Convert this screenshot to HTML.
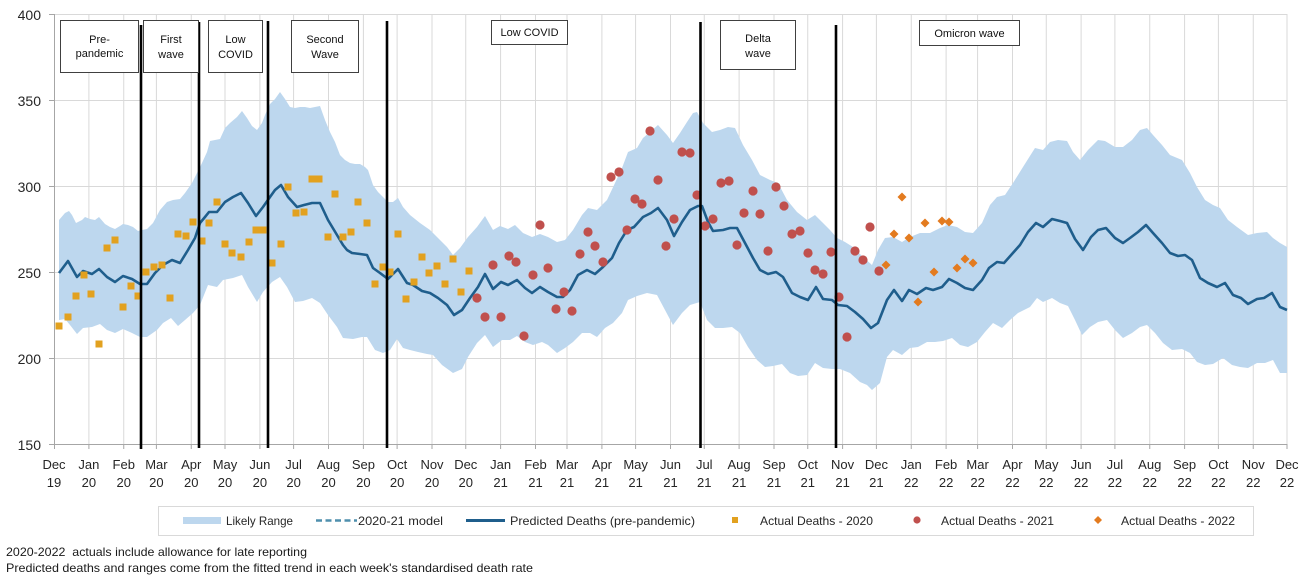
<!DOCTYPE html>
<html>
<head>
<meta charset="utf-8">
<style>
  html, body { margin: 0; padding: 0; background: #ffffff; }
  svg { display: block; }
  text { font-family: "Liberation Sans", sans-serif; }
</style>
</head>
<body>
<svg width="1306" height="583" viewBox="0 0 1306 583" xmlns="http://www.w3.org/2000/svg">
  <rect x="0" y="0" width="1306" height="583" fill="#ffffff"/>

  <!-- horizontal gridlines -->
  <g stroke="#d9d9d9" stroke-width="1">
    <line x1="54" y1="14.5" x2="1287" y2="14.5"/>
    <line x1="54" y1="100.5" x2="1287" y2="100.5"/>
    <line x1="54" y1="186.5" x2="1287" y2="186.5"/>
    <line x1="54" y1="272.5" x2="1287" y2="272.5"/>
    <line x1="54" y1="358.5" x2="1287" y2="358.5"/>
  </g>
  <!-- vertical gridlines (months) -->
  <g stroke="#d9d9d9" stroke-width="1">
    <line x1="88.9" y1="14" x2="88.9" y2="444"/>
    <line x1="123.75" y1="14" x2="123.75" y2="444"/>
    <line x1="156.4" y1="14" x2="156.4" y2="444"/>
    <line x1="191.25" y1="14" x2="191.25" y2="444"/>
    <line x1="225" y1="14" x2="225" y2="444"/>
    <line x1="259.9" y1="14" x2="259.9" y2="444"/>
    <line x1="293.6" y1="14" x2="293.6" y2="444"/>
    <line x1="328.5" y1="14" x2="328.5" y2="444"/>
    <line x1="363.4" y1="14" x2="363.4" y2="444"/>
    <line x1="397.1" y1="14" x2="397.1" y2="444"/>
    <line x1="432" y1="14" x2="432" y2="444"/>
    <line x1="465.75" y1="14" x2="465.75" y2="444"/>
    <line x1="500.6" y1="14" x2="500.6" y2="444"/>
    <line x1="535.5" y1="14" x2="535.5" y2="444"/>
    <line x1="567" y1="14" x2="567" y2="444"/>
    <line x1="601.9" y1="14" x2="601.9" y2="444"/>
    <line x1="635.6" y1="14" x2="635.6" y2="444"/>
    <line x1="670.5" y1="14" x2="670.5" y2="444"/>
    <line x1="704.25" y1="14" x2="704.25" y2="444"/>
    <line x1="739.1" y1="14" x2="739.1" y2="444"/>
    <line x1="774" y1="14" x2="774" y2="444"/>
    <line x1="807.75" y1="14" x2="807.75" y2="444"/>
    <line x1="842.6" y1="14" x2="842.6" y2="444"/>
    <line x1="876.4" y1="14" x2="876.4" y2="444"/>
    <line x1="911.25" y1="14" x2="911.25" y2="444"/>
    <line x1="946.1" y1="14" x2="946.1" y2="444"/>
    <line x1="977.6" y1="14" x2="977.6" y2="444"/>
    <line x1="1012.5" y1="14" x2="1012.5" y2="444"/>
    <line x1="1046.25" y1="14" x2="1046.25" y2="444"/>
    <line x1="1081.1" y1="14" x2="1081.1" y2="444"/>
    <line x1="1114.9" y1="14" x2="1114.9" y2="444"/>
    <line x1="1149.75" y1="14" x2="1149.75" y2="444"/>
    <line x1="1184.6" y1="14" x2="1184.6" y2="444"/>
    <line x1="1218.4" y1="14" x2="1218.4" y2="444"/>
    <line x1="1253.25" y1="14" x2="1253.25" y2="444"/>
    <line x1="1287" y1="14" x2="1287" y2="444"/>
  </g>

  <!-- Likely range band -->
  <path fill="#bdd7ee" d="M59,220 L65,213 69,211 72,215 76,223 82,220 85,217 90,219 95,220 99,217 105,224 110,227 115,229 120,226 123,224 128,225 133,227 138,231 142,230 147,229 153,223 160,210 167,202 173,200 180,199 185,193 192,183 197,173 202,163 207,152 210,141 215,140 220,139 225,128 230,123 237,117 242,111 247,118 252,126 257,130 262,123 265,115 270,104 275,99 280,92 285,99 290,107 295,108 300,107 305,107 310,108 315,107 320,106 325,120 330,132 335,142 340,155 345,160 350,163 355,164 360,164 365,167 368,170 373,185 378,192 383,197 388,202 393,202 398,198 403,207 410,215 420,223 430,230 438,238 447,247 453,255 460,248 468,237 477,227 485,216 493,230 500,226 508,229 515,225 523,233 532,237 540,234 548,237 557,242 565,240 573,230 582,215 588,208 597,210 607,200 615,183 622,168 628,152 637,148 643,138 650,132 658,125 667,135 673,143 680,133 687,122 693,113 697,112 703,123 712,132 720,130 728,127 735,128 743,145 752,160 760,175 770,180 778,183 787,200 797,212 807,220 815,215 822,222 830,230 837,238 845,242 853,247 863,257 872,265 878,250 885,238 893,237 902,242 910,237 920,233 930,233 940,228 948,225 957,227 965,232 973,233 982,223 990,205 997,197 1005,195 1013,183 1023,167 1035,148 1043,150 1050,142 1058,140 1067,141 1073,152 1080,160 1088,150 1098,140 1105,141 1115,147 1123,147 1132,140 1140,130 1147,128 1153,135 1162,145 1170,155 1182,160 1190,173 1197,187 1205,200 1213,205 1220,208 1228,220 1237,227 1248,235 1257,233 1267,232 1273,238 1280,243 1287,247 L1287,373 1280,373 1273,360 1265,363 1257,363 1248,368 1240,367 1232,365 1223,358 1213,364 1205,365 1197,362 1190,353 1182,349 1172,350 1163,343 1155,333 1147,325 1140,327 1132,333 1123,338 1115,330 1107,320 1098,322 1090,327 1082,335 1075,320 1068,306 1060,303 1052,298 1043,302 1037,298 1030,307 1018,313 1010,320 1002,328 993,323 985,332 977,342 968,347 960,345 952,338 943,341 935,342 927,342 918,347 910,348 902,355 893,350 887,357 880,383 872,390 867,385 860,382 850,373 840,369 832,369 823,368 815,363 807,375 798,376 790,373 782,364 773,366 765,367 757,360 748,347 740,333 732,327 723,328 715,328 707,320 700,302 690,305 682,313 673,325 665,310 657,295 647,293 637,296 628,300 622,313 613,323 605,328 597,337 590,333 582,333 573,342 565,348 557,353 548,345 542,342 533,345 525,342 517,336 510,340 502,340 493,347 485,335 477,343 468,357 462,369 453,373 442,365 433,355 427,354 418,352 410,350 403,348 397,339 390,350 383,353 375,350 367,337 362,337 353,339 343,338 337,327 328,315 320,303 312,298 303,301 295,302 287,287 280,277 272,282 263,292 257,302 248,287 242,275 233,278 223,280 217,287 208,285 200,305 193,313 185,320 178,326 171,318 163,323 157,330 147,337 140,337 132,333 123,329 115,333 107,330 100,324 92,327 83,328 77,334 70,325 65,319 59,320 Z"/>

  <!-- Predicted deaths line -->
  <polyline fill="none" stroke="#1f5e8c" stroke-width="2.6" stroke-linejoin="round" points="59,273 68,261 77,277 83,271 92,274 99,269 107,277 115,282 123,276 132,279 140,284 147,284 155,273 163,265 172,260 180,263 188,250 195,238 200,223 205,217 209,212 217,212 225,202 233,197 241,193 248,203 256,216 263,207 270,197 275,190 281,185 288,197 297,207 304,205 312,203 320,203 328,220 337,235 343,245 347,250 352,253 360,254 367,255 373,268 380,273 388,279 398,269 407,283 413,285 422,291 430,293 438,298 447,305 454,315 462,310 470,298 478,287 485,274 493,289 501,282 508,285 517,280 525,288 532,293 540,287 548,292 557,297 563,297 570,290 578,275 587,270 595,274 603,267 612,258 619,243 627,230 634,227 643,217 651,213 658,208 667,220 674,236 682,222 690,210 698,206 702,206 708,222 713,231 723,230 730,228 737,228 745,243 753,258 760,270 768,274 776,272 783,277 792,293 800,297 808,300 816,287 823,299 832,300 838,305 847,306 855,312 863,319 871,328 878,323 887,300 894,290 902,301 909,290 917,294 926,288 933,290 942,287 949,279 957,283 965,288 973,290 982,280 989,268 997,262 1004,263 1012,254 1020,245 1028,232 1036,223 1043,227 1052,219 1060,221 1067,223 1075,239 1083,250 1091,237 1098,230 1106,228 1115,238 1123,243 1130,238 1138,232 1146,225 1153,233 1162,243 1170,253 1178,256 1185,255 1192,260 1200,278 1208,283 1217,287 1225,283 1233,295 1241,298 1248,304 1257,299 1264,298 1272,293 1280,307 1287,310"/>

  <!-- Actual deaths 2020 (squares) -->
  <g fill="#e2a11f">
    <rect x="55.5" y="322.5" width="7" height="7"/><rect x="64.5" y="313.5" width="7" height="7"/><rect x="72.5" y="292.5" width="7" height="7"/><rect x="80.5" y="271.5" width="7" height="7"/><rect x="87.5" y="290.5" width="7" height="7"/><rect x="95.5" y="340.5" width="7" height="7"/><rect x="103.5" y="244.5" width="7" height="7"/><rect x="111.5" y="236.5" width="7" height="7"/><rect x="119.5" y="303.5" width="7" height="7"/><rect x="127.5" y="282.5" width="7" height="7"/><rect x="134.5" y="292.5" width="7" height="7"/><rect x="142.5" y="268.5" width="7" height="7"/><rect x="150.5" y="263.5" width="7" height="7"/><rect x="158.5" y="261.5" width="7" height="7"/><rect x="166.5" y="294.5" width="7" height="7"/><rect x="174.5" y="230.5" width="7" height="7"/><rect x="182.5" y="232.5" width="7" height="7"/><rect x="189.5" y="218.5" width="7" height="7"/><rect x="198.5" y="237.5" width="7" height="7"/><rect x="205.5" y="219.5" width="7" height="7"/><rect x="213.5" y="198.5" width="7" height="7"/><rect x="221.5" y="240.5" width="7" height="7"/><rect x="228.5" y="249.5" width="7" height="7"/><rect x="237.5" y="253.5" width="7" height="7"/><rect x="245.5" y="238.5" width="7" height="7"/><rect x="252.5" y="226.5" width="7" height="7"/><rect x="259.5" y="226.5" width="7" height="7"/><rect x="268.5" y="259.5" width="7" height="7"/><rect x="277.5" y="240.5" width="7" height="7"/><rect x="284.5" y="183.5" width="7" height="7"/><rect x="292.5" y="209.5" width="7" height="7"/><rect x="300.5" y="208.5" width="7" height="7"/><rect x="308.5" y="175.5" width="7" height="7"/><rect x="315.5" y="175.5" width="7" height="7"/><rect x="324.5" y="233.5" width="7" height="7"/><rect x="331.5" y="190.5" width="7" height="7"/><rect x="339.5" y="233.5" width="7" height="7"/><rect x="347.5" y="228.5" width="7" height="7"/><rect x="354.5" y="198.5" width="7" height="7"/><rect x="363.5" y="219.5" width="7" height="7"/><rect x="371.5" y="280.5" width="7" height="7"/><rect x="379.5" y="263.5" width="7" height="7"/><rect x="386.5" y="268.5" width="7" height="7"/><rect x="394.5" y="230.5" width="7" height="7"/><rect x="402.5" y="295.5" width="7" height="7"/><rect x="410.5" y="278.5" width="7" height="7"/><rect x="418.5" y="253.5" width="7" height="7"/><rect x="425.5" y="269.5" width="7" height="7"/><rect x="433.5" y="262.5" width="7" height="7"/><rect x="441.5" y="280.5" width="7" height="7"/><rect x="449.5" y="255.5" width="7" height="7"/><rect x="457.5" y="288.5" width="7" height="7"/><rect x="465.5" y="267.5" width="7" height="7"/>
  </g>

  <!-- Actual deaths 2021 (circles) -->
  <g fill="#c0504d">
    <circle cx="477" cy="298" r="4.6"/><circle cx="485" cy="317" r="4.6"/><circle cx="493" cy="265" r="4.6"/><circle cx="501" cy="317" r="4.6"/><circle cx="509" cy="256" r="4.6"/><circle cx="516" cy="262" r="4.6"/><circle cx="524" cy="336" r="4.6"/><circle cx="533" cy="275" r="4.6"/><circle cx="540" cy="225" r="4.6"/><circle cx="548" cy="268" r="4.6"/><circle cx="556" cy="309" r="4.6"/><circle cx="564" cy="292" r="4.6"/><circle cx="572" cy="311" r="4.6"/><circle cx="580" cy="254" r="4.6"/><circle cx="588" cy="232" r="4.6"/><circle cx="595" cy="246" r="4.6"/><circle cx="603" cy="262" r="4.6"/><circle cx="611" cy="177" r="4.6"/><circle cx="619" cy="172" r="4.6"/><circle cx="627" cy="230" r="4.6"/><circle cx="635" cy="199" r="4.6"/><circle cx="642" cy="204" r="4.6"/><circle cx="650" cy="131" r="4.6"/><circle cx="658" cy="180" r="4.6"/><circle cx="666" cy="246" r="4.6"/><circle cx="674" cy="219" r="4.6"/><circle cx="682" cy="152" r="4.6"/><circle cx="690" cy="153" r="4.6"/><circle cx="697" cy="195" r="4.6"/><circle cx="705" cy="226" r="4.6"/><circle cx="713" cy="219" r="4.6"/><circle cx="721" cy="183" r="4.6"/><circle cx="729" cy="181" r="4.6"/><circle cx="737" cy="245" r="4.6"/><circle cx="744" cy="213" r="4.6"/><circle cx="753" cy="191" r="4.6"/><circle cx="760" cy="214" r="4.6"/><circle cx="768" cy="251" r="4.6"/><circle cx="776" cy="187" r="4.6"/><circle cx="784" cy="206" r="4.6"/><circle cx="792" cy="234" r="4.6"/><circle cx="800" cy="231" r="4.6"/><circle cx="808" cy="253" r="4.6"/><circle cx="815" cy="270" r="4.6"/><circle cx="823" cy="274" r="4.6"/><circle cx="831" cy="252" r="4.6"/><circle cx="839" cy="297" r="4.6"/><circle cx="847" cy="337" r="4.6"/><circle cx="855" cy="251" r="4.6"/><circle cx="863" cy="260" r="4.6"/><circle cx="870" cy="227" r="4.6"/><circle cx="879" cy="271" r="4.6"/>
  </g>

  <!-- Actual deaths 2022 (diamonds) -->
  <g fill="#e37b1f">
    <polygon points="886,260.5 890.5,265 886,269.5 881.5,265"/>
    <polygon points="894,229.5 898.5,234 894,238.5 889.5,234"/>
    <polygon points="902,192.5 906.5,197 902,201.5 897.5,197"/>
    <polygon points="909,233.5 913.5,238 909,242.5 904.5,238"/>
    <polygon points="918,297.5 922.5,302 918,306.5 913.5,302"/>
    <polygon points="925,218.5 929.5,223 925,227.5 920.5,223"/>
    <polygon points="934,267.5 938.5,272 934,276.5 929.5,272"/>
    <polygon points="942,216.5 946.5,221 942,225.5 937.5,221"/>
    <polygon points="949,217.5 953.5,222 949,226.5 944.5,222"/>
    <polygon points="957,263.5 961.5,268 957,272.5 952.5,268"/>
    <polygon points="965,254.5 969.5,259 965,263.5 960.5,259"/>
    <polygon points="973,258.5 977.5,263 973,267.5 968.5,263"/>
  </g>

  <!-- axes -->
  <g stroke="#a6a6a6" stroke-width="1">
    <line x1="54.5" y1="14" x2="54.5" y2="444"/>
    <line x1="54" y1="444.5" x2="1287" y2="444.5"/>
    <line x1="49" y1="14.5" x2="54" y2="14.5"/>
    <line x1="49" y1="100.5" x2="54" y2="100.5"/>
    <line x1="49" y1="186.5" x2="54" y2="186.5"/>
    <line x1="49" y1="272.5" x2="54" y2="272.5"/>
    <line x1="49" y1="358.5" x2="54" y2="358.5"/>
    <line x1="49" y1="444.5" x2="54" y2="444.5"/>
  </g>
  <g stroke="#a6a6a6" stroke-width="1">
    <line x1="54.5" y1="444" x2="54.5" y2="449"/><line x1="88.9" y1="444" x2="88.9" y2="449"/><line x1="123.75" y1="444" x2="123.75" y2="449"/><line x1="156.4" y1="444" x2="156.4" y2="449"/><line x1="191.25" y1="444" x2="191.25" y2="449"/><line x1="225" y1="444" x2="225" y2="449"/><line x1="259.9" y1="444" x2="259.9" y2="449"/><line x1="293.6" y1="444" x2="293.6" y2="449"/><line x1="328.5" y1="444" x2="328.5" y2="449"/><line x1="363.4" y1="444" x2="363.4" y2="449"/><line x1="397.1" y1="444" x2="397.1" y2="449"/><line x1="432" y1="444" x2="432" y2="449"/><line x1="465.75" y1="444" x2="465.75" y2="449"/><line x1="500.6" y1="444" x2="500.6" y2="449"/><line x1="535.5" y1="444" x2="535.5" y2="449"/><line x1="567" y1="444" x2="567" y2="449"/><line x1="601.9" y1="444" x2="601.9" y2="449"/><line x1="635.6" y1="444" x2="635.6" y2="449"/><line x1="670.5" y1="444" x2="670.5" y2="449"/><line x1="704.25" y1="444" x2="704.25" y2="449"/><line x1="739.1" y1="444" x2="739.1" y2="449"/><line x1="774" y1="444" x2="774" y2="449"/><line x1="807.75" y1="444" x2="807.75" y2="449"/><line x1="842.6" y1="444" x2="842.6" y2="449"/><line x1="876.4" y1="444" x2="876.4" y2="449"/><line x1="911.25" y1="444" x2="911.25" y2="449"/><line x1="946.1" y1="444" x2="946.1" y2="449"/><line x1="977.6" y1="444" x2="977.6" y2="449"/><line x1="1012.5" y1="444" x2="1012.5" y2="449"/><line x1="1046.25" y1="444" x2="1046.25" y2="449"/><line x1="1081.1" y1="444" x2="1081.1" y2="449"/><line x1="1114.9" y1="444" x2="1114.9" y2="449"/><line x1="1149.75" y1="444" x2="1149.75" y2="449"/><line x1="1184.6" y1="444" x2="1184.6" y2="449"/><line x1="1218.4" y1="444" x2="1218.4" y2="449"/><line x1="1253.25" y1="444" x2="1253.25" y2="449"/><line x1="1287" y1="444" x2="1287" y2="449"/>
  </g>

  <!-- phase divider lines -->
  <g stroke="#000000" stroke-width="2.6">
    <line x1="141" y1="25" x2="141" y2="449"/>
    <line x1="199" y1="22" x2="199" y2="448"/>
    <line x1="268" y1="21" x2="268" y2="448"/>
    <line x1="387" y1="21" x2="387" y2="448"/>
    <line x1="700.5" y1="22" x2="700.5" y2="448"/>
    <line x1="836" y1="25" x2="836" y2="448"/>
  </g>

  <!-- phase label boxes -->
  <g fill="#ffffff" stroke="#404040" stroke-width="1">
    <rect x="60.5" y="20.5" width="78" height="52"/>
    <rect x="143.5" y="20.5" width="55" height="52"/>
    <rect x="208.5" y="20.5" width="54" height="52"/>
    <rect x="291.5" y="20.5" width="67" height="52"/>
    <rect x="491.5" y="20.5" width="76" height="24"/>
    <rect x="720.5" y="20.5" width="75" height="49"/>
    <rect x="919.5" y="20.5" width="100" height="25"/>
  </g>
  <g font-size="11" fill="#111111" text-anchor="middle">
    <text x="99.5" y="43">Pre-</text>
    <text x="99.5" y="57">pandemic</text>
    <text x="171" y="43">First</text>
    <text x="171" y="58">wave</text>
    <text x="235.5" y="43">Low</text>
    <text x="235.5" y="58">COVID</text>
    <text x="325" y="43">Second</text>
    <text x="325" y="58">Wave</text>
    <text x="529.5" y="36">Low COVID</text>
    <text x="758" y="42">Delta</text>
    <text x="758" y="57">wave</text>
    <text x="969.5" y="37">Omicron wave</text>
  </g>

  <!-- y axis labels -->
  <g font-size="14" fill="#262626" text-anchor="end">
    <text x="41" y="20">400</text>
    <text x="41" y="106">350</text>
    <text x="41" y="192">300</text>
    <text x="41" y="278">250</text>
    <text x="41" y="364">200</text>
    <text x="41" y="450">150</text>
  </g>

  <!-- x axis labels -->
  <g font-size="13" fill="#262626" text-anchor="middle">
    <text x="54" y="469">Dec</text><text x="54" y="487">19</text>
    <text x="88.9" y="469">Jan</text><text x="88.9" y="487">20</text>
    <text x="123.75" y="469">Feb</text><text x="123.75" y="487">20</text>
    <text x="156.4" y="469">Mar</text><text x="156.4" y="487">20</text>
    <text x="191.25" y="469">Apr</text><text x="191.25" y="487">20</text>
    <text x="225" y="469">May</text><text x="225" y="487">20</text>
    <text x="259.9" y="469">Jun</text><text x="259.9" y="487">20</text>
    <text x="293.6" y="469">Jul</text><text x="293.6" y="487">20</text>
    <text x="328.5" y="469">Aug</text><text x="328.5" y="487">20</text>
    <text x="363.4" y="469">Sep</text><text x="363.4" y="487">20</text>
    <text x="397.1" y="469">Oct</text><text x="397.1" y="487">20</text>
    <text x="432" y="469">Nov</text><text x="432" y="487">20</text>
    <text x="465.75" y="469">Dec</text><text x="465.75" y="487">20</text>
    <text x="500.6" y="469">Jan</text><text x="500.6" y="487">21</text>
    <text x="535.5" y="469">Feb</text><text x="535.5" y="487">21</text>
    <text x="567" y="469">Mar</text><text x="567" y="487">21</text>
    <text x="601.9" y="469">Apr</text><text x="601.9" y="487">21</text>
    <text x="635.6" y="469">May</text><text x="635.6" y="487">21</text>
    <text x="670.5" y="469">Jun</text><text x="670.5" y="487">21</text>
    <text x="704.25" y="469">Jul</text><text x="704.25" y="487">21</text>
    <text x="739.1" y="469">Aug</text><text x="739.1" y="487">21</text>
    <text x="774" y="469">Sep</text><text x="774" y="487">21</text>
    <text x="807.75" y="469">Oct</text><text x="807.75" y="487">21</text>
    <text x="842.6" y="469">Nov</text><text x="842.6" y="487">21</text>
    <text x="876.4" y="469">Dec</text><text x="876.4" y="487">21</text>
    <text x="911.25" y="469">Jan</text><text x="911.25" y="487">22</text>
    <text x="946.1" y="469">Feb</text><text x="946.1" y="487">22</text>
    <text x="977.6" y="469">Mar</text><text x="977.6" y="487">22</text>
    <text x="1012.5" y="469">Apr</text><text x="1012.5" y="487">22</text>
    <text x="1046.25" y="469">May</text><text x="1046.25" y="487">22</text>
    <text x="1081.1" y="469">Jun</text><text x="1081.1" y="487">22</text>
    <text x="1114.9" y="469">Jul</text><text x="1114.9" y="487">22</text>
    <text x="1149.75" y="469">Aug</text><text x="1149.75" y="487">22</text>
    <text x="1184.6" y="469">Sep</text><text x="1184.6" y="487">22</text>
    <text x="1218.4" y="469">Oct</text><text x="1218.4" y="487">22</text>
    <text x="1253.25" y="469">Nov</text><text x="1253.25" y="487">22</text>
    <text x="1287" y="469">Dec</text><text x="1287" y="487">22</text>
  </g>

  <!-- legend -->
  <rect x="158.5" y="506.5" width="1095" height="29" fill="#ffffff" stroke="#d9d9d9" stroke-width="1"/>
  <rect x="183" y="517" width="38" height="7" fill="#bdd7ee"/>
  <line x1="316" y1="520.5" x2="357" y2="520.5" stroke="#4f8fad" stroke-width="2.5" stroke-dasharray="6,3.5"/>
  <line x1="466" y1="520.5" x2="505" y2="520.5" stroke="#1f5e8c" stroke-width="3"/>
  <rect x="732" y="517" width="6" height="6" fill="#e2a11f"/>
  <circle cx="917" cy="520" r="3.6" fill="#c0504d"/>
  <polygon points="1098,516 1102,520 1098,524 1094,520" fill="#e37b1f"/>
  <g font-size="12" fill="#262626">
    <text x="226" y="525" textLength="67" lengthAdjust="spacingAndGlyphs">Likely Range</text>
    <text x="358" y="525" textLength="85" lengthAdjust="spacingAndGlyphs">2020-21 model</text>
    <text x="510" y="525" textLength="185" lengthAdjust="spacingAndGlyphs">Predicted Deaths (pre-pandemic)</text>
    <text x="760" y="525" textLength="113" lengthAdjust="spacingAndGlyphs">Actual Deaths - 2020</text>
    <text x="941" y="525" textLength="113" lengthAdjust="spacingAndGlyphs">Actual Deaths - 2021</text>
    <text x="1121" y="525" textLength="114" lengthAdjust="spacingAndGlyphs">Actual Deaths - 2022</text>
  </g>

  <!-- footnotes -->
  <g font-size="12" fill="#1a1a1a">
    <text x="6" y="556" textLength="301" lengthAdjust="spacingAndGlyphs">2020-2022&#160;&#160;actuals include allowance for late reporting</text>
    <text x="6" y="572" textLength="527" lengthAdjust="spacingAndGlyphs">Predicted deaths and ranges come from the fitted trend in each week's standardised death rate</text>
  </g>
</svg>
</body>
</html>
